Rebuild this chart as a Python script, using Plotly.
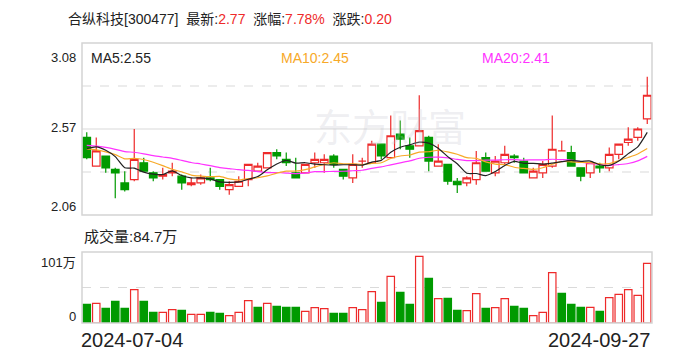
import plotly.graph_objects as go
import pandas as pd

# ---------------- data ----------------
opens  = [2.52, 2.35, 2.41, 2.33, 2.25, 2.27, 2.37, 2.31, 2.29, 2.31,
          2.29, 2.24, 2.25, 2.28, 2.27, 2.21, 2.23, 2.27, 2.32, 2.34,
          2.43, 2.39, 2.31, 2.31, 2.37, 2.37, 2.41, 2.33, 2.28, 2.38,
          2.37, 2.48, 2.40, 2.54, 2.47, 2.47, 2.52, 2.35, 2.36, 2.26,
          2.25, 2.27, 2.40, 2.31, 2.37, 2.41, 2.38, 2.28, 2.31, 2.35,
          2.44, 2.43, 2.34, 2.31, 2.35, 2.34, 2.42, 2.49, 2.52, 2.63]
highs  = [2.55, 2.52, 2.41, 2.34, 2.32, 2.57, 2.40, 2.32, 2.34, 2.37,
          2.30, 2.28, 2.30, 2.34, 2.27, 2.26, 2.29, 2.36, 2.37, 2.43,
          2.45, 2.43, 2.40, 2.36, 2.43, 2.42, 2.42, 2.33, 2.42, 2.40,
          2.50, 2.48, 2.65, 2.62, 2.52, 2.77, 2.53, 2.48, 2.36, 2.28,
          2.29, 2.44, 2.43, 2.41, 2.47, 2.42, 2.40, 2.34, 2.38, 2.65,
          2.50, 2.47, 2.34, 2.37, 2.37, 2.46, 2.48, 2.58, 2.58, 2.88]
lows   = [2.39, 2.35, 2.31, 2.16, 2.20, 2.26, 2.32, 2.26, 2.27, 2.29,
          2.21, 2.23, 2.24, 2.26, 2.21, 2.18, 2.23, 2.23, 2.32, 2.34,
          2.39, 2.35, 2.28, 2.31, 2.34, 2.31, 2.34, 2.27, 2.25, 2.34,
          2.37, 2.39, 2.40, 2.45, 2.40, 2.47, 2.32, 2.35, 2.24, 2.19,
          2.23, 2.24, 2.32, 2.29, 2.36, 2.37, 2.31, 2.28, 2.28, 2.34,
          2.44, 2.35, 2.26, 2.28, 2.31, 2.32, 2.39, 2.47, 2.50, 2.60]
closes = [2.40, 2.44, 2.34, 2.31, 2.21, 2.39, 2.32, 2.28, 2.30, 2.32,
          2.25, 2.25, 2.28, 2.27, 2.23, 2.24, 2.26, 2.36, 2.35, 2.43,
          2.41, 2.37, 2.28, 2.36, 2.39, 2.39, 2.36, 2.29, 2.36, 2.38,
          2.48, 2.41, 2.53, 2.51, 2.45, 2.56, 2.38, 2.38, 2.26, 2.24,
          2.28, 2.37, 2.32, 2.38, 2.42, 2.40, 2.31, 2.32, 2.36, 2.45,
          2.44, 2.35, 2.29, 2.37, 2.34, 2.42, 2.48, 2.51, 2.57, 2.77]
# volume, unit: 万
volumes = [26.6, 28.0, 20.9, 30.8, 20.9, 47.4, 30.8, 15.2, 15.2, 19.0,
           18.0, 12.3, 12.3, 15.2, 13.8, 10.4, 15.2, 31.8, 22.3, 28.0,
           23.7, 22.3, 22.3, 16.6, 21.8, 20.4, 13.8, 13.8, 21.8, 19.0,
           44.6, 29.4, 66.4, 43.6, 26.6, 94.8, 63.5, 34.6, 35.1, 18.0,
           17.5, 41.7, 20.9, 21.8, 34.6, 23.7, 20.9, 10.4, 15.2, 71.6,
           42.2, 26.6, 22.3, 22.3, 16.6, 36.0, 40.8, 47.4, 39.4, 84.7]
# closes of the 19 sessions before the window (estimated from MA line starts)
prior_closes = [2.52, 2.50, 2.53, 2.48, 2.47, 2.50, 2.49, 2.47, 2.48, 2.49,
                2.50, 2.46, 2.47, 2.46, 2.36, 2.39, 2.44, 2.50, 2.54]

trading_days = pd.bdate_range("2024-07-04", "2024-09-27")
holidays = ["2024-09-16", "2024-09-17"]
dates = [d.strftime("%Y-%m-%d") for d in trading_days if d.strftime("%Y-%m-%d") not in holidays]

price_ticks = ["3.08", "2.57", "2.06"]
vol_ticks = ["101万", "0"]
title_name = "合纵科技[300477]"
latest, pct, chg = "2.77", "7.78%", "0.20"
vol_label = "成交量:84.7万"

# ---------------- derived ----------------
n = len(closes)
x = list(range(n))
allc = pd.Series(prior_closes + closes)
ma5 = allc.rolling(5).mean().iloc[-n:].tolist()
ma10 = allc.rolling(10).mean().iloc[-n:].tolist()
ma20 = allc.rolling(20).mean().iloc[-n:].tolist()

RED = "#ee2a2a"
GREEN = "#009a00"
FONT = "Liberation Sans, Arial, Noto Sans CJK SC, sans-serif"

up = [c >= o for o, c in zip(opens, closes)]
def pick(arr, mask):
    return [a if m else None for a, m in zip(arr, mask)]
down = [not u for u in up]

fig = go.Figure()
fig.add_trace(go.Candlestick(
    x=x, open=pick(opens, up), high=pick(highs, up), low=pick(lows, up), close=pick(closes, up),
    increasing=dict(line=dict(color=RED, width=1.2), fillcolor="white"),
    decreasing=dict(line=dict(color=RED, width=1.2), fillcolor="white"),
    whiskerwidth=0, xaxis="x", yaxis="y", hoverinfo="skip", showlegend=False))
fig.add_trace(go.Candlestick(
    x=x, open=pick(opens, down), high=pick(highs, down), low=pick(lows, down), close=pick(closes, down),
    increasing=dict(line=dict(color=GREEN, width=1.2), fillcolor=GREEN),
    decreasing=dict(line=dict(color=GREEN, width=1.2), fillcolor=GREEN),
    whiskerwidth=0, xaxis="x", yaxis="y", hoverinfo="skip", showlegend=False))

for vals, col in [(ma20, "#ff33ff"), (ma10, "#f7a928"), (ma5, "#222222")]:
    fig.add_trace(go.Scatter(x=x, y=vals, mode="lines", line=dict(color=col, width=1.2, shape="spline", smoothing=0.6),
                             xaxis="x", yaxis="y", hoverinfo="skip", showlegend=False))

prev = [prior_closes[-1]] + closes[:-1]
vup = [c >= p for c, p in zip(closes, prev)]
fig.add_trace(go.Bar(
    x=x, y=volumes, width=0.78,
    marker=dict(color=["white" if u else GREEN for u in vup],
                line=dict(color=[RED if u else GREEN for u in vup], width=1.2)),
    xaxis="x2", yaxis="y2", hoverinfo="skip", showlegend=False))

W, H = 688, 360
def px(v): return v / W
def py(v): return 1 - v / H

L, R = 82, 652
PT, PB = 43, 215
VT, VB = 252, 323

fig.update_layout(
    width=W, height=H, margin=dict(l=0, r=0, t=0, b=0),
    paper_bgcolor="white", plot_bgcolor="white",
    boxgap=0.2, boxgroupgap=0, bargap=0.2,
    xaxis=dict(domain=[px(L), px(R)], range=[-0.5, n - 0.5], visible=False, rangeslider=dict(visible=False), fixedrange=True),
    yaxis=dict(domain=[py(PB), py(PT)], range=[2.06, 3.08], visible=False),
    xaxis2=dict(domain=[px(L), px(R)], range=[-0.5, n - 0.5], visible=False, anchor="y2"),
    yaxis2=dict(domain=[py(VB), py(VT)], range=[0, 101], visible=False, anchor="x2"),
    font=dict(family=FONT, color="#222"),
)

shapes = []
BORDER = "#d4d4d4"
GRID = "#dadada"
for (t, b) in [(PT, PB), (VT, VB)]:
    shapes.append(dict(type="rect", xref="paper", yref="paper", x0=px(L), x1=px(R), y0=py(b), y1=py(t),
                       line=dict(color=BORDER, width=1.5), layer="above"))
# price grid
for val, dash in [(2.825, "dash"), (2.57, "solid"), (2.315, "dash")]:
    shapes.append(dict(type="line", xref="paper", yref="y", x0=px(L), x1=px(R), y0=val, y1=val,
                       line=dict(color=GRID, width=1.2, dash=dash), layer="below"))
shapes.append(dict(type="line", xref="paper", yref="y2", x0=px(L), x1=px(R), y0=50.5, y1=50.5,
                   line=dict(color=GRID, width=1.2, dash="dash"), layer="below"))
fig.update_layout(shapes=shapes)

ann = []
def A(text, x0, y0, size, xanchor="left", color="#222", **kw):
    ann.append(dict(text=text, x=px(x0), y=py(y0), xref="paper", yref="paper", xanchor=xanchor, yanchor="middle",
                    showarrow=False, font=dict(size=size, color=color, family=FONT), **kw))

sp = "\u00a0\u00a0"
def red(t): return f"<span style='color:{RED}'>{t}</span>"
A(f"{title_name}{sp}最新:{red(latest)}{sp}涨幅:{red(pct)}{sp}涨跌:{red(chg)}", 66, 19, 14)

A(f"MA5:{ma5[-1]:.2f}", 89, 58, 14, color="#222")
A(f"MA10:{ma10[-1]:.2f}", 279, 58, 14, color="#f7a928")
A(f"MA20:{ma20[-1]:.2f}", 480, 58, 14, color="#ff33ff")

A(price_ticks[0], 78, 58, 13, xanchor="right")
A(price_ticks[1], 78, 127, 13, xanchor="right")
A(price_ticks[2], 78, 206, 13, xanchor="right")

A(vol_label, 82, 236, 15)
A(vol_ticks[0], 78, 262, 13, xanchor="right")
A(vol_ticks[1], 78, 316, 13, xanchor="right")

A(dates[0], 79, 340, 20)
A(dates[-1], 652, 340, 20, xanchor="right")

# watermark
A("东方财富", 312, 128, 38, color="rgba(200,200,210,0.3)")
fig.update_layout(annotations=ann)

fig.write_html("out.html")
